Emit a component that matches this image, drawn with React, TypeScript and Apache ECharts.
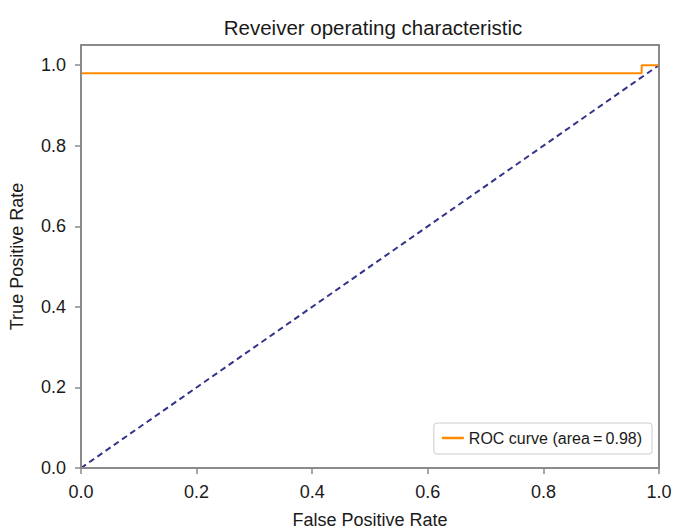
import React, { useEffect, useRef } from "react";
import * as echarts from "echarts";

const rocFpr = [0, 0, 0.97, 0.97, 1.0];
const rocTpr = [0, 0.98, 0.98, 1.0, 1.0];
const diagX = [0, 1];
const diagY = [0, 1];
const tickValues = [0, 0.2, 0.4, 0.6, 0.8, 1.0];
const rocLabel = "ROC curve (area\u2009=\u20090.98)";

const FONT = "'Liberation Sans', Arial, Helvetica, sans-serif";
const AXIS_COLOR = "#8a8a8a";
const TEXT = "#1a1a1a";

export default function App() {
  const ref = useRef<HTMLDivElement>(null);
  useEffect(() => {
    if (!ref.current) return;
    const chart = echarts.init(ref.current, undefined, { renderer: "svg" });
    const axisCommon = {
      type: "value" as const,
      min: 0,
      z: 10,
      splitLine: { show: false },
      axisLine: { show: true, onZero: false, lineStyle: { color: AXIS_COLOR, width: 2 } },
      axisTick: {
        show: true,
        inside: false,
        length: 6,
        lineStyle: { color: AXIS_COLOR, width: 1.5 },
        customValues: tickValues,
      },
      axisLabel: {
        color: TEXT,
        fontSize: 18,
        fontFamily: FONT,
        customValues: tickValues,
        formatter: (v: number) => v.toFixed(1),
      },
      nameLocation: "middle" as const,
      nameTextStyle: { color: TEXT, fontSize: 18, lineHeight: 18, fontFamily: FONT },
    };
    const frameAxis = {
      type: "value" as const,
      min: 0,
      z: 10,
      splitLine: { show: false },
      axisLine: { show: true, onZero: false, lineStyle: { color: AXIS_COLOR, width: 2 } },
      axisTick: { show: false },
      axisLabel: { show: false },
    };
    chart.setOption({
      animation: false,
      backgroundColor: "#ffffff",
      title: {
        text: "Reveiver operating characteristic",
        left: 368,
        textAlign: "center",
        top: 12,
        textStyle: { color: TEXT, fontSize: 20.5, fontWeight: "normal", fontFamily: FONT },
      },
      grid: {
        left: 81,
        right: 17,
        top: 45,
        bottom: 63,
        containLabel: false,
        outerBoundsMode: "none",
      },
      xAxis: [
        {
          ...axisCommon,
          max: 1,
          name: "False Positive Rate",
          nameGap: 43,
          axisLabel: { ...axisCommon.axisLabel, margin: 15 },
        },
        { ...frameAxis, max: 1, position: "top" },
      ],
      yAxis: [
        {
          ...axisCommon,
          max: 1.05,
          name: "True Positive Rate",
          nameGap: 55,
          axisLabel: { ...axisCommon.axisLabel, margin: 15 },
        },
        { ...frameAxis, max: 1.05, position: "right" },
      ],
      legend: {
        data: [rocLabel],
        right: 24,
        bottom: 77,
        orient: "vertical",
        icon: "rect",
        itemWidth: 22,
        itemHeight: 2.5,
        itemGap: 8,
        padding: [7, 10, 8, 8],
        borderColor: "#cccccc",
        borderWidth: 1,
        borderRadius: 3,
        textStyle: { color: TEXT, fontSize: 16, fontFamily: FONT },
      },
      series: [
        {
          name: "diag",
          type: "line",
          data: diagX.map((x, i) => [x, diagY[i]]),
          showSymbol: false,
          silent: true,
          lineStyle: { color: "#33338a", width: 2, type: [6, 4] },
          z: 2,
        },
        {
          name: rocLabel,
          type: "line",
          data: rocFpr.map((x, i) => [x, rocTpr[i]]),
          showSymbol: false,
          color: "#ff8c00",
          lineStyle: { color: "#ff8c00", width: 2 },
          z: 3,
        },
      ],
    });
    return () => chart.dispose();
  }, []);
  return (
    <div
      ref={ref}
      style={{ position: "fixed", left: 0, top: 0, width: 676, height: 531, background: "#fff" }}
    />
  );
}
